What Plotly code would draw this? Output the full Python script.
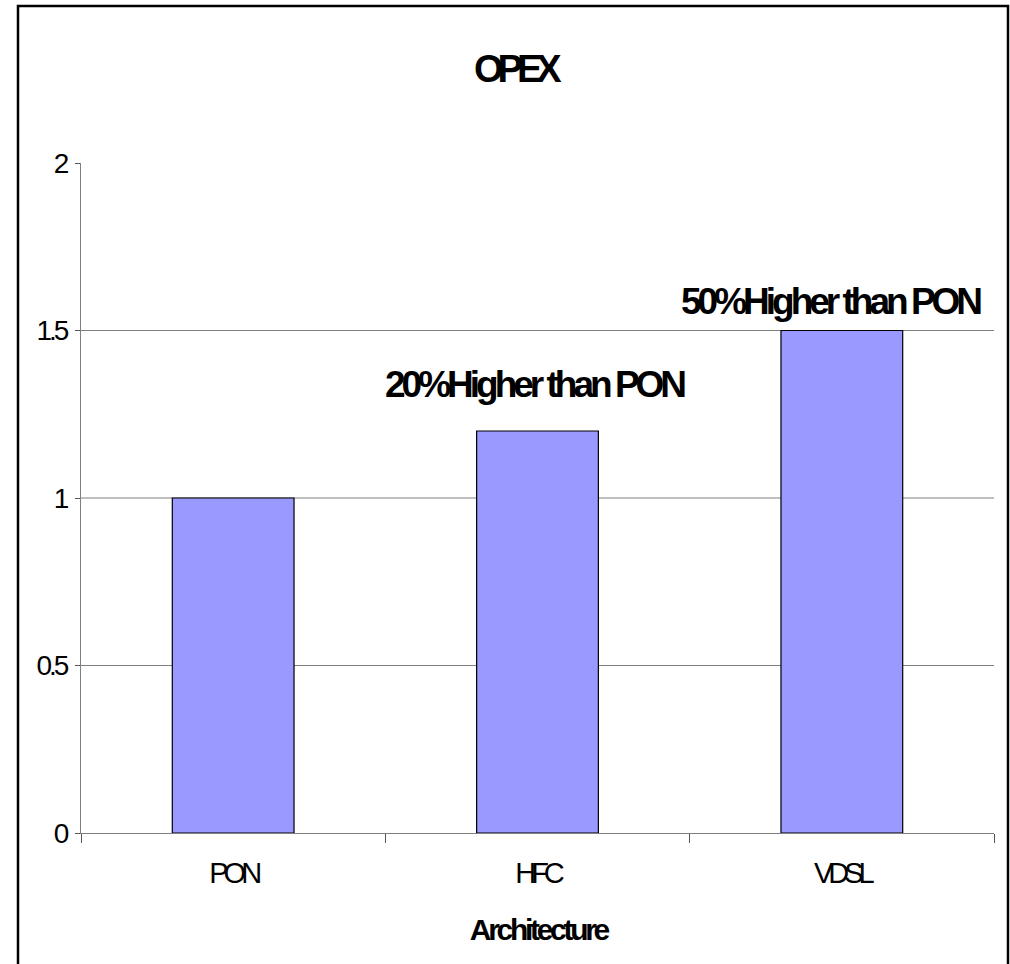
import plotly.graph_objects as go

# Chart data
architectures = ["PON", "HFC", "VDSL"]
opex_values = [1.0, 1.2, 1.5]
y_tick_values = [0, 0.5, 1, 1.5, 2]
y_tick_labels = ["0", "0.5", "1", "1.5", "2"]
grid_values = [0.5, 1.0, 1.5]
notes = {"HFC": "20%Higher than PON", "VDSL": "50%Higher than PON"}

FONT = "Liberation Sans, Arial, sans-serif"

W, H = 1010, 964
L, R, T, B = 81, 16, 163, 131
PW, PH = W - L - R, H - T - B


def px_to_paper_x(px):
    return (px - L) / PW


def px_to_paper_y(py):
    return (H - B - py) / PH


fig = go.Figure(
    go.Bar(
        x=architectures,
        y=opex_values,
        marker=dict(color="#9999FF", line=dict(color="#000000", width=1.2)),
        hoverinfo="x+y",
    )
)

shapes = []
# horizontal grid lines
for v in grid_values:
    shapes.append(
        dict(type="line", xref="paper", yref="y", x0=0, x1=1, y0=v, y1=v,
             line=dict(color="#7f7f7f", width=1), layer="below")
    )
# outer frame of the chart
shapes.append(
    dict(type="rect", xref="paper", yref="paper",
         x0=px_to_paper_x(18), x1=px_to_paper_x(1008),
         y0=px_to_paper_y(968), y1=px_to_paper_y(6),
         line=dict(color="#000000", width=2.5), fillcolor="rgba(0,0,0,0)",
         layer="above")
)

annotations = [
    dict(text="<b>OPEX</b>", xref="paper", yref="paper",
         x=px_to_paper_x(515), y=px_to_paper_y(69),
         xanchor="center", yanchor="middle", showarrow=False,
         font=dict(family=FONT, size=38, color="#000000")),
    dict(text="<b>Architecture</b>", xref="paper", yref="paper",
         x=px_to_paper_x(538), y=px_to_paper_y(929),
         xanchor="center", yanchor="middle", showarrow=False,
         font=dict(family=FONT, size=30, color="#000000")),
]
for cat, val in zip(architectures, opex_values):
    if cat in notes:
        shift_x = -4 if cat == "HFC" else -12
        shift_y = 47 if cat == "HFC" else 29
        annotations.append(
            dict(text="<b>%s</b>" % notes[cat], xref="x", yref="y",
                 x=cat, y=val, xanchor="center", yanchor="middle",
                 xshift=shift_x, yshift=shift_y, showarrow=False,
                 font=dict(family=FONT, size=37, color="#000000"))
        )

fig.update_layout(
    width=W, height=H,
    margin=dict(l=L, r=R, t=T, b=B, pad=0),
    paper_bgcolor="#ffffff",
    plot_bgcolor="#ffffff",
    bargap=0.6,
    showlegend=False,
    font=dict(family=FONT, color="#000000"),
    shapes=shapes,
    annotations=annotations,
)

fig.update_xaxes(
    type="category",
    range=[-0.5, 2.5],
    showline=True, linecolor="#7f7f7f", linewidth=1,
    ticks="outside", tickson="boundaries", ticklen=9,
    tickcolor="#555555", tickwidth=1,
    showgrid=False, zeroline=False,
    tickfont=dict(family=FONT, size=29, color="#000000"),
    ticklabelstandoff=14,
)

fig.update_yaxes(
    range=[0, 2],
    tickmode="array", tickvals=y_tick_values, ticktext=y_tick_labels,
    showline=True, linecolor="#7f7f7f", linewidth=1,
    ticks="outside", ticklen=5, tickcolor="#555555", tickwidth=1,
    showgrid=False, zeroline=False,
    tickfont=dict(family=FONT, size=28, color="#000000"),
    ticklabelstandoff=3,
)

# Tight letter spacing for the condensed chart lettering
tight_text = """
var gd = document.getElementById('{plot_id}');
function tighten(sel, v) {
  gd.querySelectorAll(sel).forEach(function (t) { t.style.letterSpacing = v; });
}
tighten('.xtick text', '-5px');
tighten('.ytick text', '-3px');
tighten('.annotation[data-index="0"] text', '-6px');
tighten('.annotation[data-index="1"] text', '-3.3px');
tighten('.annotation[data-index="2"] text', '-4px');
tighten('.annotation[data-index="3"] text', '-4px');
"""

fig.write_html("out.html", post_script=tight_text)
